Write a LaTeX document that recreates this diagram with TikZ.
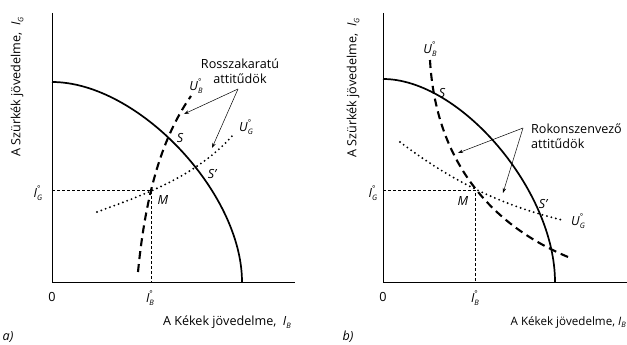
\documentclass[tikz,border=0pt]{standalone}
\usepackage{fontspec}
\setmainfont{Open Sans}
\usetikzlibrary{arrows.meta}
\newcommand\vlab[2]{\textit{#1}\makebox[0pt][l]{\raisebox{0.95ex}{\fontsize{8}{8}\selectfont °}}\raisebox{-0.45ex}{\fontsize{7.5}{7.5}\selectfont\textit{#2}}}
\newcommand\slab[2]{\textit{#1}\raisebox{-0.45ex}{\fontsize{7.5}{7.5}\selectfont\textit{#2}}}
\begin{document}
\begin{tikzpicture}[x=1pt,y=-1pt,
  font=\fontsize{12.6}{14.5}\selectfont,
  axis/.style={line width=0.8pt},
  frontier/.style={line width=1.7pt},
  ubcurve/.style={line width=2.1pt, dash pattern=on 8pt off 5pt},
  ugcurve/.style={line width=2.1pt, dash pattern=on 0pt off 4.6pt, line cap=round},
  guide/.style={line width=0.5pt, dash pattern=on 3pt off 2pt},
  pointer/.style={line width=0.5pt, -{Stealth[length=5pt,width=3.5pt]}},
  lbl/.style={inner sep=0pt},
  ilbl/.style={inner sep=0pt, font=\fontsize{12.6}{14.5}\selectfont\itshape}]
\useasboundingbox (0,0) rectangle (627,345);

% ---------------- panel a ----------------
\coordinate (aO) at (52,282);
\coordinate (aYT) at (52,13);
\coordinate (aXR) at (295,282);
\draw[axis] (aYT) -- (aO) -- (aXR);
\coordinate (aF0) at (52,82);
\coordinate (aF1) at (242,282);
\draw[frontier] (aF0) .. controls (137.5,82) and (242,192) .. (aF1);
\coordinate (aM) at (151,190);
\coordinate (aMy) at (52,190);
\coordinate (aMx) at (151,282);
\draw[guide] (aMy) -- (aM) -- (aMx);
\coordinate (aUB0) at (138,272);
\coordinate (aUB1) at (191,96);
\draw[ubcurve] (aUB0) .. controls (145,200) and (160,140) .. (aUB1);
\coordinate (aUG0) at (97,212);
\coordinate (aUG1) at (233,135);
\draw[ugcurve] (aUG0) .. controls (140,196) and (195,178) .. (aUG1);
\node[lbl, align=center] (aTxt) at (240,71) {Rosszakaratú\\attitűdök};
\coordinate (aA0) at (238,89);
\coordinate (aA1) at (184,114);
\coordinate (aA2) at (212,148);
\draw[pointer] (aA0) -- (aA1);
\draw[pointer] (aA0) -- (aA2);
\node[ilbl] (aS) at (180,138) {S};
\node[ilbl] (aSp) at (212,174) {S'};
\node[ilbl] (aMl) at (163,200) {M};
\node[lbl] (aUB) at (196,86) {\vlab{U}{B}};
\node[lbl] (aUG) at (246,127) {\vlab{U}{G}};
\node[lbl] (aIG) at (38,193) {\vlab{I}{G}};
\node[lbl] (aIB) at (150,298) {\vlab{I}{B}};
\node[lbl] (a0) at (52,297) {0};
\node[lbl] (aXL) at (227,322) {A Kékek jövedelme, \ \slab{I}{B}};
\node[lbl, rotate=90] (aYL) at (17,87) {A Szürkék jövedelme, \ \slab{I}{G}};
\node[ilbl] (aTag) at (8,337) {a)};

% ---------------- panel b ----------------
\coordinate (bO) at (383,282);
\coordinate (bYT) at (383,13);
\coordinate (bXR) at (627,282);
\draw[axis] (bYT) -- (bO) -- (bXR);
\coordinate (bF0) at (383,79);
\coordinate (bF1) at (555,282);
\draw[frontier] (bF0) .. controls (460,79) and (555,190) .. (bF1);
\coordinate (bM) at (475,190);
\coordinate (bMy) at (383,190);
\coordinate (bMx) at (475,282);
\draw[guide] (bMy) -- (bM) -- (bMx);
\coordinate (bUB0) at (430,60);
\coordinate (bUB1) at (568,257);
\draw[ubcurve] (bUB0) .. controls (435,150) and (480,220) .. (bUB1);
\coordinate (bUG0) at (400,142);
\coordinate (bUG1) at (562,220);
\draw[ugcurve] (bUG0) .. controls (450,180) and (500,205) .. (bUG1);
\node[lbl, anchor=west, align=left] (bTxt) at (531,136) {Rokonszenvező\\attitűdök};
\coordinate (bA0) at (523,128);
\coordinate (bA1) at (458,153);
\coordinate (bA2) at (503,193);
\draw[pointer] (bA0) -- (bA1);
\draw[pointer] (bA0) -- (bA2);
\node[ilbl] (bS) at (442,93) {S};
\node[ilbl] (bSp) at (543,204) {S'};
\node[ilbl] (bMl) at (463,201) {M};
\node[lbl] (bUB) at (430,49) {\vlab{U}{B}};
\node[lbl] (bUG) at (578,221) {\vlab{U}{G}};
\node[lbl] (bIG) at (373,193) {\vlab{I}{G}};
\node[lbl] (bIB) at (475,298) {\vlab{I}{B}};
\node[lbl] (b0) at (383,297) {0};
\node[lbl, anchor=east, font=\fontsize{11.6}{13}\selectfont] (bXL) at (626,322) {A Kékek jövedelme, \slab{I}{B}};
\node[lbl, rotate=90] (bYL) at (353,88) {A Szürkék jövedelme, \ \slab{I}{G}};
\node[ilbl] (bTag) at (348,337) {b)};
\end{tikzpicture}
\end{document}
